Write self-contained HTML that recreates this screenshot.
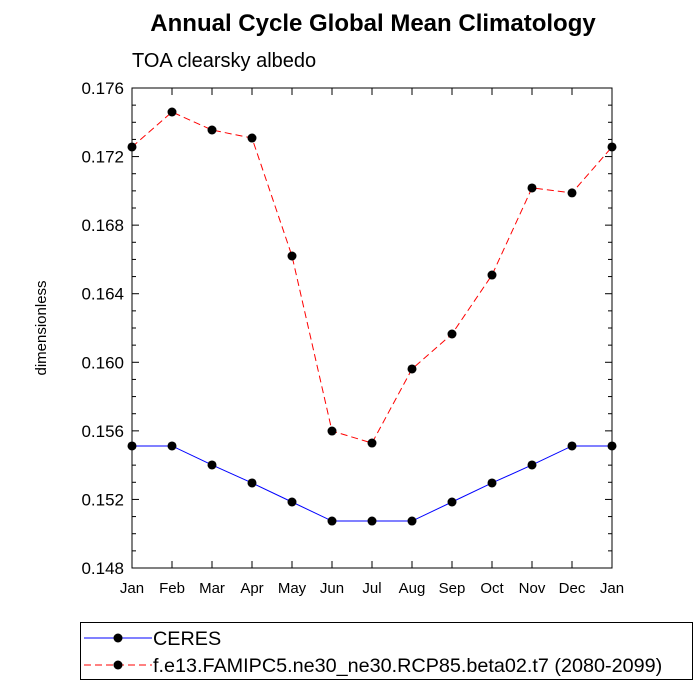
<!DOCTYPE html>
<html><head><meta charset="utf-8"><style>
body{margin:0;background:#fff;}
svg{display:block;font-family:"Liberation Sans",sans-serif;}
</style></head><body>
<svg id="chart" width="700" height="700">
<text x="373" y="31" text-anchor="middle" font-size="24" font-weight="bold">Annual Cycle Global Mean Climatology</text>
<text x="132" y="67" font-size="20">TOA clearsky albedo</text>
<text transform="translate(46,328) rotate(-90)" text-anchor="middle" font-size="15">dimensionless</text>
<g id="axes"></g>
<g id="series"></g>
<g id="legend">
<rect x="80.5" y="622.5" width="612" height="57" fill="none" stroke="#000"/>
<g>
<line x1="84" y1="638" x2="152" y2="638" stroke="#00f" stroke-width="1"/>
<circle cx="118" cy="638" r="4.5" fill="#000"/>
<text x="153" y="645" font-size="19.8">CERES</text></g>
<g>
<line x1="84" y1="665" x2="152" y2="665" stroke="#f00" stroke-dasharray="7,4"/>
<circle cx="118" cy="665" r="4.5" fill="#000"/>
<text x="153" y="672" font-size="19.8">f.e13.FAMIPC5.ne30_ne30.RCP85.beta02.t7 (2080-2099)</text></g>
</g>
</svg>
<script>
const months=["Jan","Feb","Mar","Apr","May","Jun","Jul","Aug","Sep","Oct","Nov","Dec","Jan"];
const ceres=[0.15512,0.15512,0.15401,0.15296,0.15185,0.15074,0.15074,0.15074,0.15185,0.15296,0.15401,0.15512,0.15512];
const model=[0.17256,0.1746,0.17355,0.17308,0.1662,0.15599,0.15529,0.15961,0.16165,0.16509,0.17017,0.16988,0.17256];
const yTicks=["0.148","0.152","0.156","0.160","0.164","0.168","0.172","0.176"];
const X0=132,X1=612,Y0=568,Y1=88,YMIN=0.148,YMAX=0.176;
const NS="http://www.w3.org/2000/svg";
const xs=i=>X0+i*(X1-X0)/(months.length-1);
const ys=v=>Y0-(v-YMIN)/(YMAX-YMIN)*(Y0-Y1);
function mk(t,a,p){const e=document.createElementNS(NS,t);for(const k in a)e.setAttribute(k,a[k]);p.appendChild(e);return e;}
const ax=document.getElementById('axes');
const fr=mk('rect',{x:X0,y:Y1,width:X1-X0,height:Y0-Y1,fill:'none',stroke:'#000','stroke-width':1},ax);


months.forEach((m,i)=>{const x=xs(i);
mk('line',{x1:x,y1:Y0,x2:x,y2:Y0-7,stroke:'#000'},ax);
mk('line',{x1:x,y1:Y1,x2:x,y2:Y1+7,stroke:'#000'},ax);
const t=mk('text',{x:x,y:Y0+25,'text-anchor':'middle','font-size':15},ax);t.textContent=m;

});
for(let k=0;k<=28;k++){const v=YMIN+k*0.001,y=ys(v),maj=k%4==0,l=maj?7:4;
mk('line',{x1:X0,y1:y,x2:X0+l,y2:y,stroke:'#000'},ax);
mk('line',{x1:X1,y1:y,x2:X1-l,y2:y,stroke:'#000'},ax);}
yTicks.forEach(s=>{const y=ys(parseFloat(s));const t=mk('text',{x:X0-8,y:y+6,'text-anchor':'end','font-size':17},ax);t.textContent=s;

});
const sg=document.getElementById('series');
function draw(vals,col,dash,name){
const pl=mk('polyline',{points:vals.map((v,i)=>xs(i)+','+ys(v)).join(' '),fill:'none',stroke:col,'stroke-width':1,'stroke-dasharray':dash},sg);


vals.forEach((v,i)=>{const c=mk('circle',{cx:xs(i),cy:ys(v),r:4.5,fill:'#000'},sg);

});}
draw(ceres,'#00f','none','ceres');
draw(model,'#f00','7,4','model');
</script>
</body></html>
